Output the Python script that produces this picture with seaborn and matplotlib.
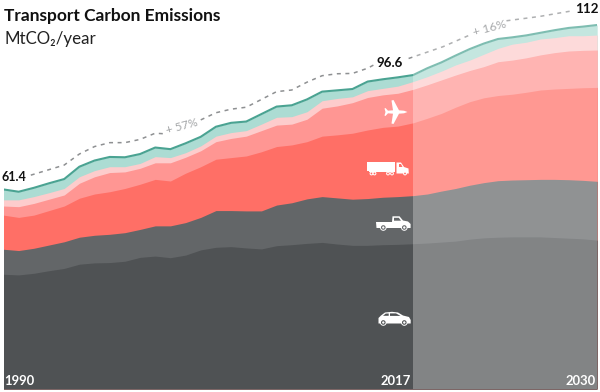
import numpy as np
import seaborn as sns
import matplotlib
matplotlib.use('Agg')
import matplotlib.pyplot as plt
from matplotlib.patches import Polygon, Circle, Rectangle

# MtCO2/year. Each list is the running total up to that sector.
years = list(range(1990, 2031))
car_top = [35.3, 35.1, 35.6, 36.4, 37.1, 38.4, 38.8, 38.9, 39.3, 40.5, 40.9, 40.4, 41.2, 42.8, 43.6, 43.8, 43.4, 43.1,
           44.1, 44.4, 44.8, 45.1, 44.6, 44.2, 44.2, 44.4, 44.5, 44.7,
           44.9, 45.2, 45.5, 46.1, 46.5, 46.7, 46.8, 46.8, 46.8, 46.6, 46.4, 46.2, 45.8]
pickup_top = [43.0, 42.6, 43.3, 44.3, 45.3, 46.7, 47.3, 47.6, 48.1, 49.1, 50.2, 50.2, 51.2, 52.8, 54.9, 54.9, 54.8, 54.8,
              56.6, 57.3, 58.5, 59.2, 58.8, 58.4, 58.6, 59.0, 59.2, 59.5,
              60.0, 60.9, 61.7, 62.7, 63.5, 64.1, 64.3, 64.4, 64.5, 64.5, 64.4, 64.2, 63.9]
truck_top = [53.5, 52.8, 53.5, 54.9, 56.3, 58.7, 60.0, 60.7, 61.7, 63.0, 64.5, 64.0, 66.4, 68.4, 70.7, 71.2, 71.7, 73.0,
             74.6, 75.1, 76.1, 77.8, 78.2, 78.7, 79.7, 80.5, 80.9, 81.9,
             83.3, 84.8, 86.7, 88.4, 89.6, 90.3, 90.7, 91.3, 92.0, 92.3, 92.5, 92.7, 92.8]
plane_top = [56.3, 56.1, 57.1, 58.4, 59.7, 63.3, 65.3, 66.6, 66.8, 67.9, 69.6, 69.6, 71.3, 73.3, 76.1, 77.1, 77.8, 79.5,
             81.2, 81.5, 83.0, 86.4, 87.1, 88.1, 89.7, 90.5, 91.0, 92.2,
             93.6, 95.1, 96.6, 98.0, 99.2, 100.7, 101.2, 101.9, 102.8, 103.5, 104.0, 104.2, 104.3]
pink_top = [58.2, 58.2, 59.2, 60.4, 61.7, 65.3, 67.2, 68.4, 68.4, 69.4, 71.5, 71.2, 72.7, 74.8, 77.8, 78.9, 79.5, 81.5,
            83.6, 83.8, 85.3, 88.7, 89.4, 89.9, 91.8, 92.5, 93.2, 94.6,
            96.1, 97.8, 99.7, 101.2, 103.0, 104.8, 106.1, 106.7, 107.7, 108.1, 108.7, 108.7, 108.9]
total = [61.4, 60.7, 61.9, 63.3, 64.6, 68.4, 70.3, 71.4, 71.3, 72.3, 74.3, 73.8, 75.6, 77.6, 80.7, 81.9, 82.3, 84.6,
         86.9, 87.3, 89.1, 91.5, 91.9, 92.3, 94.6, 95.3, 95.9, 96.6,
         98.7, 100.5, 102.6, 104.6, 106.3, 107.7, 108.2, 108.8, 109.6, 110.4, 111.1, 111.5, 112.0]

# dashed guide above the total, broken where the labels sit
dash_years_a = [1991.8, 1994, 1995, 1996, 1997, 1998, 1999, 2000, 2000.7]
dash_vals_a = [65.8, 68.9, 72.3, 74.6, 75.8, 75.8, 76.8, 78.7, 78.5]
dash_years_b = [2003, 2004, 2005, 2006, 2007, 2008, 2009, 2010, 2011, 2012, 2013, 2014, 2014.4]
dash_vals_b = [82.8, 85.0, 86.1, 86.7, 89.1, 91.5, 92.0, 94.4, 96.4, 97.0, 97.1, 98.7, 99.7]
dash_years_c = [2016.7, 2019.1, 2021.1]
dash_vals_c = [101.7, 105.3, 109.1]
dash_years_d = [2023.6, 2025.9, 2028.3]
dash_vals_d = [113.3, 114.6, 116.4]

DARK = '#4f5254'
GREY = '#636668'
RED = '#ff6f66'


# history is drawn a bit wider per year than the forecast
def fwd(x):
    return np.interp(x, [1980, 1990, 2017, 2030, 2040], [-152, 0, 410, 594, 736])


def inv(x):
    return np.interp(x, [-152, 0, 410, 594, 736], [1980, 1990, 2017, 2030, 2040])


def wheel(ax, x, y, col):
    ax.add_patch(Circle((x, y), 3.3, fc='white', ec='none'))
    ax.add_patch(Circle((x, y), 2.3, fc=col, ec='none'))
    ax.add_patch(Circle((x, y), 1.2, fc='white', ec='none'))


def draw_icons(ax):
    # plane
    cx, cy = 396, 112
    plane = [(11.5, 0), (8, -1.3), (3, -1.7), (-2.5, -12), (-4.5, -11.5), (-3, -1.7), (-8, -1.3), (-10.5, -4), (-11.5, -3.5),
             (-10.5, 0), (-11.5, 3.5), (-10.5, 4), (-8, 1.3), (-3, 1.7), (-4.5, 11.5), (-2.5, 12), (3, 1.7), (8, 1.3)]
    ax.add_patch(Polygon([(cx + a, cy + b) for a, b in plane], fc='white', ec='none'))
    # truck
    ax.add_patch(Rectangle((366.7, 161.7), 28.5, 9.6, fc='white', ec='none'))
    cab = [(396.5, 162.5), (401, 162.5), (404, 167), (408.5, 168.5), (408.8, 173.5), (396.5, 173.5)]
    ax.add_patch(Polygon(cab, fc='white', ec='none'))
    ax.add_patch(Polygon([(399, 164), (401, 164), (402.5, 167), (399, 167)], fc=RED, ec='none'))
    ax.add_patch(Rectangle((369, 171), 26, 1.2, fc='white', ec='none'))
    for x in [371.5, 374.5, 388, 392, 405]:
        ax.add_patch(Circle((x, 173.5), 1.9, fc='white', ec='none'))
        ax.add_patch(Circle((x, 173.5), 0.9, fc=RED, ec='none'))
    # pickup
    pickup = [(376, 222), (392, 222), (392.5, 216.3), (399.5, 216.3), (403, 220.5), (408, 221.5), (410.6, 224),
              (410.6, 228), (376.5, 228)]
    ax.add_patch(Polygon(pickup, fc='white', ec='none'))
    ax.add_patch(Polygon([(394, 217.8), (398.8, 217.8), (401, 220.7), (394, 220.7)], fc=GREY, ec='none'))
    wheel(ax, 383.3, 227.5, GREY)
    wheel(ax, 404.3, 227.5, GREY)
    # car
    car = [(378.5, 322), (378.5, 318), (381, 315.5), (385, 312.5), (392, 311.8), (398, 312.5), (403, 315.5), (409, 317),
           (410.7, 320), (410.7, 323.5), (378.5, 323.5)]
    ax.add_patch(Polygon(car, fc='white', ec='none'))
    ax.add_patch(Polygon([(383, 315.8), (385.7, 313.6), (388.7, 313.5), (388.7, 315.8)], fc=DARK, ec='none'))
    ax.add_patch(Polygon([(390, 313.4), (396, 313.4), (400.5, 315.9), (390, 315.9)], fc=DARK, ec='none'))
    wheel(ax, 383.3, 322.5, DARK)
    wheel(ax, 404.3, 322.5, DARK)


def main():
    sns.set_theme(style='white')
    plt.rcParams['font.family'] = ['Lato', 'Noto Sans', 'DejaVu Sans']

    fig = plt.figure(figsize=(6, 3.92), dpi=100)
    ax = fig.add_axes([3.5 / 600, 3 / 392, 593.5 / 600, 389 / 392])
    ax.set_xscale('function', functions=(fwd, inv))
    ax.set_xlim(1990, 2030)
    ax.set_ylim(0, 389 / 3.25)
    ax.axis('off')

    # painted top band first, each next one over it, so no seams show between them
    bands = [total, pink_top, plane_top, truck_top, pickup_top, car_top]
    colors = ['#acdcd3', '#fdcccc', '#ff9693', RED, GREY, DARK]
    for band, col in zip(bands, colors):
        ax.fill_between(years, 0, band, color=col, lw=0)

    sns.lineplot(x=years, y=total, color='#4aa392', lw=1.5, errorbar=None, ax=ax)
    for xs, ys in [(dash_years_a, dash_vals_a), (dash_years_b, dash_vals_b),
                   (dash_years_c, dash_vals_c), (dash_years_d, dash_vals_d)]:
        sns.lineplot(x=xs, y=ys, color='#8e9092', lw=1.1, linestyle=(0, (2.6, 3)), errorbar=None, sort=False, ax=ax)

    # forecast part is washed out
    ax.axvspan(2017, 2030, color='white', alpha=0.29, lw=0, zorder=5)

    # texts and icons sit on an overlay in pixel units
    top = fig.add_axes([0, 0, 1, 1], facecolor='none')
    top.set_xlim(0, 600)
    top.set_ylim(392, 0)
    top.axis('off')

    top.text(4, 16, 'Transport Carbon Emissions', fontsize=12.5, fontweight='bold', color='#111111', va='center')
    top.text(4, 39, 'MtCO₂/year', fontsize=12.2, color='#222222', va='center')
    top.text(2, 177, '61.4', fontsize=9, fontweight='bold', color='#111111', va='center')
    top.text(390, 63, '96.6', fontsize=9.6, fontweight='bold', color='#111111', va='center', ha='center')
    top.text(587, 9, '112', fontsize=9.6, fontweight='bold', color='#111111', va='center', ha='center')
    top.text(182, 126, '+ 57%', fontsize=8.4, color='#a3a5a7', rotation=15, va='center', ha='center')
    top.text(490, 28, '+ 16%', fontsize=8.8, color='#a8aaac', rotation=15, va='center', ha='center')
    for x, label in [(19, '1990'), (396, '2017'), (581, '2030')]:
        top.text(x, 381, label, fontsize=9.4, fontweight='bold', color='white', va='center', ha='center')

    draw_icons(top)

    fig.savefig('out.png', dpi=100)
    plt.close(fig)


if __name__ == '__main__':
    main()
